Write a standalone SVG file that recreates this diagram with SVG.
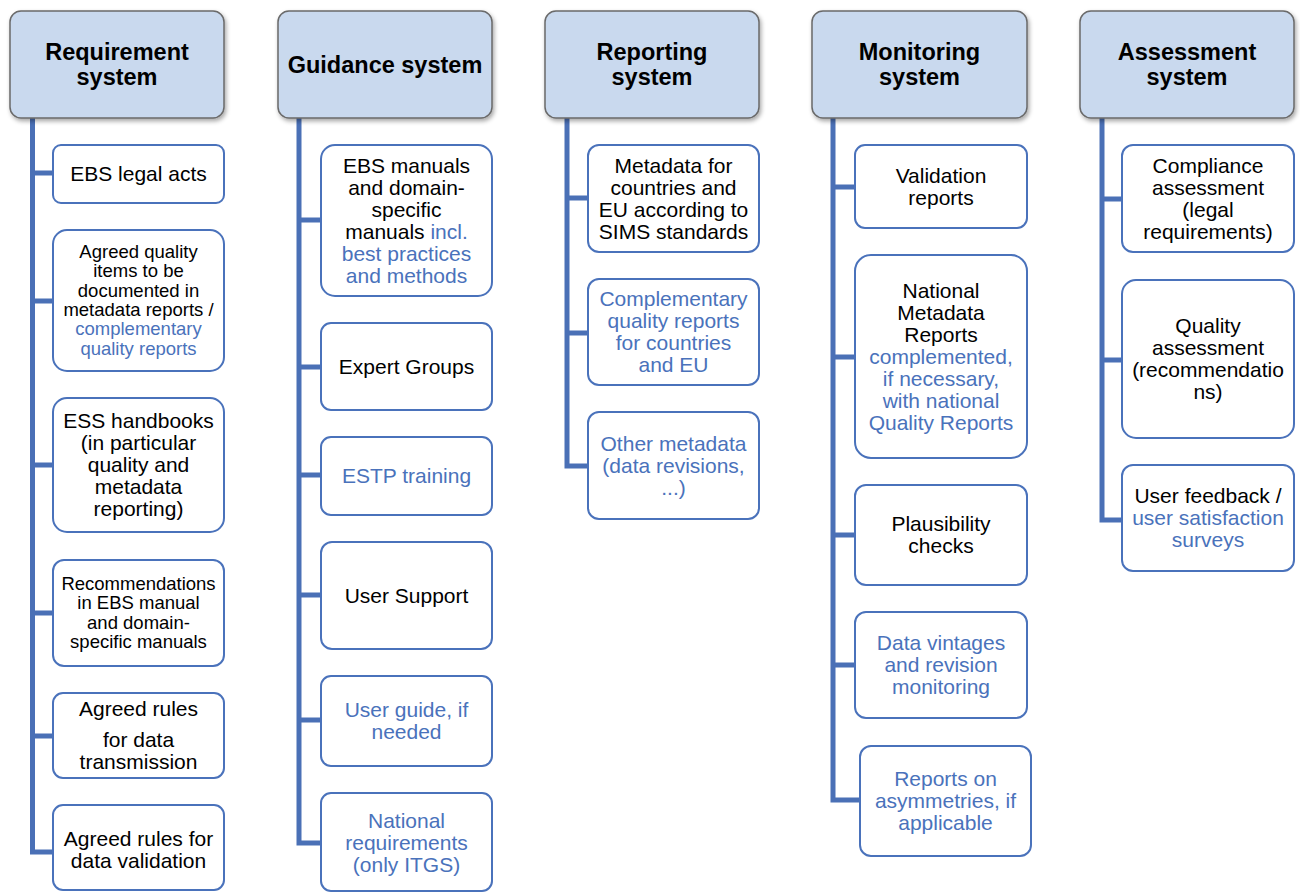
<svg xmlns="http://www.w3.org/2000/svg" width="1300" height="893" viewBox="0 0 1300 893">
<defs>
<filter id="sh" x="-10%" y="-10%" width="125%" height="130%">
<feDropShadow dx="1.5" dy="2.5" stdDeviation="2" flood-color="#000" flood-opacity="0.35"/>
</filter>
</defs>
<style>
.hd{fill:#c9d9ee;stroke:#6a6a6a;stroke-width:1.5}
.bx{fill:#fff;stroke:#4a72bb;stroke-width:2}
.ht{font-family:"Liberation Sans",Arial,sans-serif;font-weight:bold;font-size:23.5px;fill:#000;text-anchor:middle}
.t{font-family:"Liberation Sans",Arial,sans-serif;font-size:21px;fill:#000;text-anchor:middle}
.s{font-family:"Liberation Sans",Arial,sans-serif;font-size:18.5px;fill:#000;text-anchor:middle}
.b{fill:#4a72bb}
.cn{fill:none;stroke:#4a70b6;stroke-width:5}
</style>
<g id="connectors">
<path class="cn" d="M32.5,118 V852 H53 M32.5,173 H53 M32.5,301 H53 M32.5,465 H53 M32.5,613 H53 M32.5,736 H53"/>
<path class="cn" d="M299,118 V843 H321 M299,220 H321 M299,367 H321 M299,475 H321 M299,595 H321 M299,720 H321"/>
<path class="cn" d="M567,118 V466 H588 M567,198 H588 M567,333 H588"/>
<path class="cn" d="M833,118 V800 H860 M833,187 H855 M833,357 H855 M833,535 H855 M833,665 H855"/>
<path class="cn" d="M1102,118 V520 H1122 M1102,199 H1122 M1102,360 H1122"/>
</g>
<g id="h1"><rect class="hd" filter="url(#sh)" x="10" y="11" width="214" height="107" rx="11"/><text class="ht" x="117" y="60">Requirement</text><text class="ht" x="117" y="85">system</text></g>
<g id="h2"><rect class="hd" filter="url(#sh)" x="278" y="11" width="214" height="107" rx="11"/><text class="ht" x="385" y="73">Guidance system</text></g>
<g id="h3"><rect class="hd" filter="url(#sh)" x="545" y="11" width="214" height="107" rx="11"/><text class="ht" x="652" y="60">Reporting</text><text class="ht" x="652" y="85">system</text></g>
<g id="h4"><rect class="hd" filter="url(#sh)" x="812" y="11" width="215" height="107" rx="11"/><text class="ht" x="919.5" y="60">Monitoring</text><text class="ht" x="919.5" y="85">system</text></g>
<g id="h5"><rect class="hd" filter="url(#sh)" x="1080" y="11" width="214" height="107" rx="11"/><text class="ht" x="1187" y="60">Assessment</text><text class="ht" x="1187" y="85">system</text></g>

<g id="c1n1"><rect class="bx" x="53" y="145" width="171" height="58" rx="8"/><text class="t" x="138.5" y="181">EBS legal acts</text></g>
<g id="c1n2"><rect class="bx" x="53" y="230" width="171" height="141" rx="14"/>
<text class="s" x="138.5" y="258">Agreed quality</text><text class="s" x="138.5" y="277.3">items to be</text><text class="s" x="138.5" y="296.6">documented in</text><text class="s" x="138.5" y="315.9">metadata reports /</text><text class="s b" x="138.5" y="335.2">complementary</text><text class="s b" x="138.5" y="354.5">quality reports</text></g>
<g id="c1n3"><rect class="bx" x="53" y="398" width="171" height="134" rx="14"/>
<text class="t" x="138.5" y="428">ESS handbooks</text><text class="t" x="138.5" y="450">(in particular</text><text class="t" x="138.5" y="472">quality and</text><text class="t" x="138.5" y="494">metadata</text><text class="t" x="138.5" y="516">reporting)</text></g>
<g id="c1n4"><rect class="bx" x="53" y="560" width="171" height="106" rx="11"/>
<text class="s" x="138.5" y="590">Recommendations</text><text class="s" x="138.5" y="609.3">in EBS manual</text><text class="s" x="138.5" y="628.6">and domain-</text><text class="s" x="138.5" y="647.9">specific manuals</text></g>
<g id="c1n5"><rect class="bx" x="53" y="693" width="171" height="85" rx="10"/>
<text class="t" x="138.5" y="716">Agreed rules</text><text class="t" x="138.5" y="746.5">for data</text><text class="t" x="138.5" y="768.5">transmission</text></g>
<g id="c1n6"><rect class="bx" x="53" y="805" width="171" height="85" rx="10"/>
<text class="t" x="138.5" y="846">Agreed rules for</text><text class="t" x="138.5" y="868">data validation</text></g>

<g id="c2n1"><rect class="bx" x="321" y="145" width="171" height="151" rx="14"/>
<text class="t" x="406.5" y="172.5">EBS manuals</text><text class="t" x="406.5" y="194.5">and domain-</text><text class="t" x="406.5" y="216.5">specific</text><text class="t" x="406.5" y="238.5">manuals <tspan class="b">incl.</tspan></text><text class="t b" x="406.5" y="260.5">best practices</text><text class="t b" x="406.5" y="282.5">and methods</text></g>
<g id="c2n2"><rect class="bx" x="321" y="323" width="171" height="87" rx="10"/><text class="t" x="406.5" y="373.5">Expert Groups</text></g>
<g id="c2n3"><rect class="bx" x="321" y="437" width="171" height="78" rx="10"/><text class="t b" x="406.5" y="483">ESTP training</text></g>
<g id="c2n4"><rect class="bx" x="321" y="542" width="171" height="107" rx="11"/><text class="t" x="406.5" y="602.5">User Support</text></g>
<g id="c2n5"><rect class="bx" x="321" y="676" width="171" height="90" rx="10"/><text class="t b" x="406.5" y="717">User guide, if</text><text class="t b" x="406.5" y="739">needed</text></g>
<g id="c2n6"><rect class="bx" x="321" y="793" width="171" height="98" rx="10"/><text class="t b" x="406.5" y="827.5">National</text><text class="t b" x="406.5" y="849.5">requirements</text><text class="t b" x="406.5" y="871.5">(only ITGS)</text></g>

<g id="c3n1"><rect class="bx" x="588" y="145" width="171" height="107" rx="11"/>
<text class="t" x="673.5" y="172.5">Metadata for</text><text class="t" x="673.5" y="194.5">countries and</text><text class="t" x="673.5" y="216.5">EU according to</text><text class="t" x="673.5" y="238.5">SIMS standards</text></g>
<g id="c3n2"><rect class="bx" x="588" y="279" width="171" height="106" rx="11"/>
<text class="t b" x="673.5" y="306">Complementary</text><text class="t b" x="673.5" y="328">quality reports</text><text class="t b" x="673.5" y="350">for countries</text><text class="t b" x="673.5" y="372">and EU</text></g>
<g id="c3n3"><rect class="bx" x="588" y="412" width="171" height="107" rx="11"/>
<text class="t b" x="673.5" y="450.5">Other metadata</text><text class="t b" x="673.5" y="472.5">(data revisions,</text><text class="t b" x="673.5" y="494.5">...)</text></g>

<g id="c4n1"><rect class="bx" x="855" y="145" width="172" height="83" rx="10"/><text class="t" x="941" y="182.5">Validation</text><text class="t" x="941" y="204.5">reports</text></g>
<g id="c4n2"><rect class="bx" x="855" y="255" width="172" height="203" rx="16"/>
<text class="t" x="941" y="297.5">National</text><text class="t" x="941" y="319.5">Metadata</text><text class="t" x="941" y="341.5">Reports</text><text class="t b" x="941" y="363.5">complemented,</text><text class="t b" x="941" y="385.5">if necessary,</text><text class="t b" x="941" y="407.5">with national</text><text class="t b" x="941" y="429.5">Quality Reports</text></g>
<g id="c4n3"><rect class="bx" x="855" y="485" width="172" height="100" rx="11"/><text class="t" x="941" y="531">Plausibility</text><text class="t" x="941" y="553">checks</text></g>
<g id="c4n4"><rect class="bx" x="855" y="612" width="172" height="106" rx="11"/><text class="t b" x="941" y="650">Data vintages</text><text class="t b" x="941" y="672">and revision</text><text class="t b" x="941" y="694">monitoring</text></g>
<g id="c4n5"><rect class="bx" x="860" y="746" width="171" height="110" rx="11"/><text class="t b" x="945.5" y="786">Reports on</text><text class="t b" x="945.5" y="808">asymmetries, if</text><text class="t b" x="945.5" y="830">applicable</text></g>

<g id="c5n1"><rect class="bx" x="1122" y="145" width="172" height="107" rx="11"/>
<text class="t" x="1208" y="172.5">Compliance</text><text class="t" x="1208" y="194.5">assessment</text><text class="t" x="1208" y="216.5">(legal</text><text class="t" x="1208" y="238.5">requirements)</text></g>
<g id="c5n2"><rect class="bx" x="1122" y="280" width="172" height="158" rx="14"/>
<text class="t" x="1208" y="333">Quality</text><text class="t" x="1208" y="355">assessment</text><text class="t" x="1208" y="377">(recommendatio</text><text class="t" x="1208" y="399">ns)</text></g>
<g id="c5n3"><rect class="bx" x="1122" y="465" width="172" height="106" rx="11"/>
<text class="t" x="1208" y="503">User feedback /</text><text class="t b" x="1208" y="525">user satisfaction</text><text class="t b" x="1208" y="547">surveys</text></g>
</svg>
